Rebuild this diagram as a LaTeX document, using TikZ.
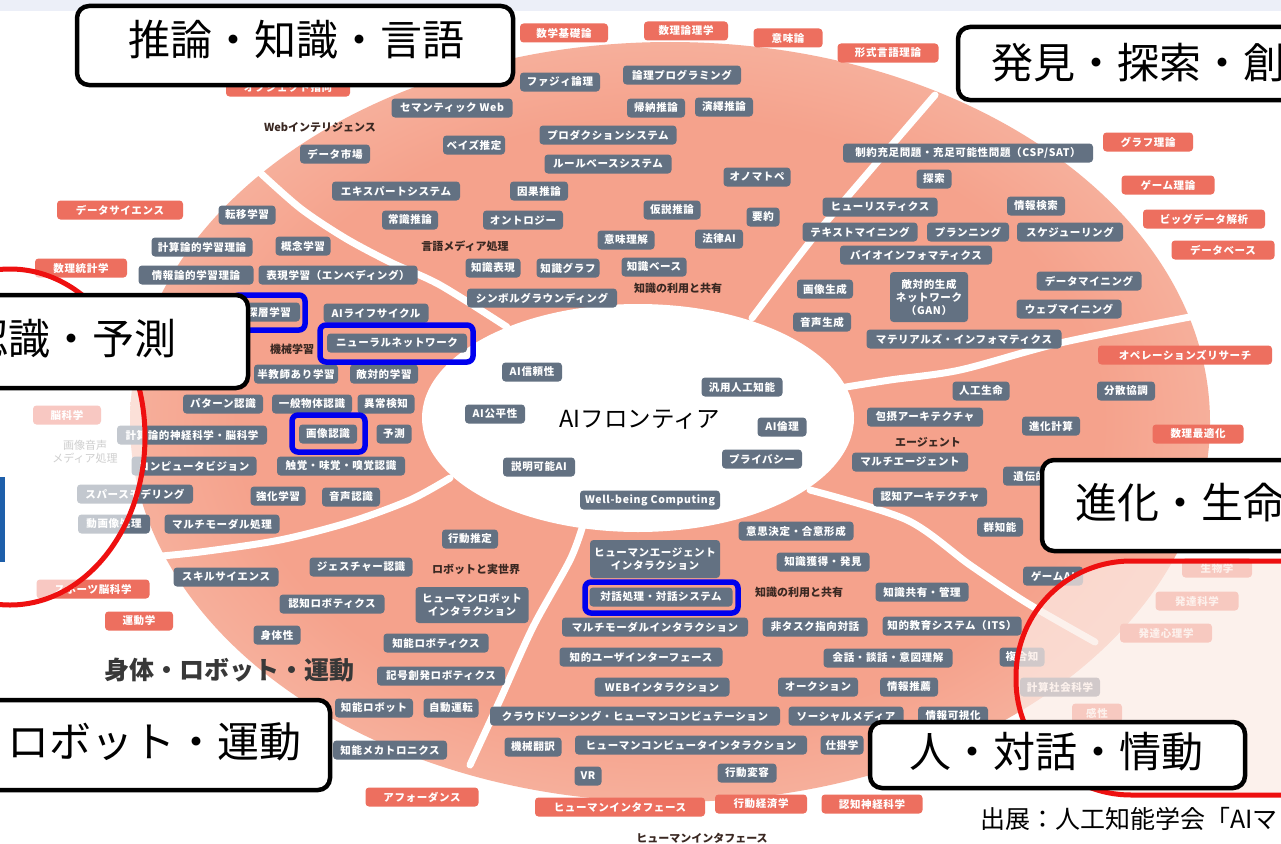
\documentclass[tikz,border=0pt]{standalone}
\usepackage{fontspec}
\setmainfont{Noto Sans CJK JP}
\newfontfamily\jp{Noto Sans CJK JP}
\newfontfamily\pf[LetterSpace=6]{Noto Sans CJK JP}
\definecolor{gn}{RGB}{99,113,130}
\definecolor{sn}{RGB}{237,111,95}
\definecolor{sal1}{RGB}{245,162,140}
\definecolor{sal2}{RGB}{248,188,170}
\definecolor{sal3}{RGB}{252,218,205}
\definecolor{sal4}{RGB}{253,235,227}
\definecolor{hdc}{RGB}{58,40,34}
\definecolor{fadec}{RGB}{252,236,230}
\definecolor{topband}{RGB}{236,239,248}
\definecolor{redl}{RGB}{238,16,16}
\definecolor{hlc}{RGB}{0,0,238}
\definecolor{logob}{RGB}{30,95,170}
\pgfdeclareradialshading{salrad}{\pgfpoint{0bp}{0bp}}{color(0bp)=(sal1); color(20bp)=(sal1); color(30bp)=(sal2); color(42bp)=(sal3); color(50bp)=(sal4)}
\tikzset{
  pill/.style={rounded corners=3.5pt, inner xsep=2pt, inner ysep=0pt, minimum height=19, text=white, font=\pf\bfseries\fontsize{10.5}{13}\selectfont, align=center},
  gp/.style={pill, fill=gn, minimum width=#1},
  sp/.style={pill, fill=sn, minimum width=#1},
  hd/.style={font=\jp\bfseries\fontsize{11}{13}\selectfont, text=hdc, inner sep=0pt},
  labbox/.style={draw=black, line width=4.5pt, fill=white, rounded corners=12pt},
  labtext/.style={font=\jp\fontsize{42}{48}\selectfont, inner sep=0pt},
  hlbox/.style={draw=hlc, line width=5.5pt, rounded corners=6pt},
  divider/.style={draw=white, line width=7pt, line cap=round},
}
\begin{document}
\begin{tikzpicture}[x=1pt,y=-1pt]
\useasboundingbox (0,0) rectangle (1281,843);
\fill[white] (0,0) rectangle (1281,843);
\fill[topband] (0,0) rectangle (1281,11);
% big ellipse
\shade[shading=salrad] (670,422) ellipse [x radius=540, y radius=380];
% dividers
\draw[divider] plot[smooth] coordinates {(507,327) (440,285) (390,262) (345,238) (300,208) (255,168)};
\draw[divider] plot[smooth] coordinates {(752,318) (773,290) (817,233) (873,167) (935,95)};
\draw[divider] plot[smooth] coordinates {(840,388) (890,380) (960,370) (1060,343) (1195,316)};
\draw[divider] plot[smooth] coordinates {(810,490) (907,520) (970,565) (1027,603) (1095,642)};
\draw[divider] plot[smooth] coordinates {(583,525) (570,560) (533,627) (500,700) (470,765)};
\draw[divider] plot[smooth] coordinates {(450,478) (410,500) (350,522) (280,540) (200,552) (140,558)};
% inner ellipse
\fill[white] (638,418) ellipse [x radius=216, y radius=114];

% top salmon
\node[sp=88] (t1) at (564,33) {数学基礎論};
\node[sp=84] (t2) at (686,31) {数理論理学};
\node[sp=69] (t3) at (788,38) {意味論};
\node[sp=101] (t4) at (888,53) {形式言語理論};
\node[sp=124] (t5) at (288,87) {オブジェクト指向};

% reasoning
\node[gp=80] (r1) at (560,82) {ファジィ論理};
\node[gp=118] (r2) at (682,75) {論理プログラミング};
\node[gp=121] (r3) at (452,108) {セマンティック Web};
\node[gp=58] (r4) at (656,108) {帰納推論};
\node[gp=58] (r5) at (724,107) {演繹推論};
\node[gp=62] (r6) at (474,145) {ベイズ推定};
\node[gp=137] (r7) at (608,135) {プロダクションシステム};
\node[gp=127] (r8) at (608,164) {ルールベースシステム};
\node[gp=70] (r9) at (335,154) {データ市場};
\node[gp=128] (r10) at (396,191) {エキスパートシステム};
\node[gp=58] (r11) at (539,191) {因果推論};
\node[gp=67] (r12) at (757,177) {オノマトペ};
\node[gp=56] (r13) at (410,220) {常識推論};
\node[gp=80] (r14) at (523,220) {オントロジー};
\node[gp=57] (r15) at (672,210) {仮説推論};
\node[gp=33] (r16) at (763,217) {要約};
\node[gp=57] (r17) at (626,240) {意味理解};
\node[gp=48] (r18) at (719,239) {法律AI};
\node[gp=55] (r19) at (493,268) {知識表現};
\node[gp=63] (r20) at (568,268) {知識グラフ};
\node[gp=65] (r21) at (654,267) {知識ベース};
\node[gp=150] (r22) at (542,298) {シンボルグラウンディング};

% headings
\node[hd] (h1) at (320,127) {Webインテリジェンス};
\node[hd] (h2) at (465,246) {言語メディア処理};
\node[hd] (h3) at (678,288) {知識の利用と共有};
\node[hd] (h4) at (292,349) {機械学習};
\node[hd] (h5) at (928,442) {エージェント};
\node[hd] (h6) at (476,569) {ロボットと実世界};
\node[hd] (h7) at (799,592) {知識の利用と共有};
\node[hd] (h8) at (702,838) {ヒューマンインタフェース};

% machine learning
\node[gp=57] (m1) at (247,215) {転移学習};
\node[gp=101] (m2) at (202,247) {計算論的学習理論};
\node[gp=55] (m3) at (303,246) {概念学習};
\node[gp=115] (m4) at (196,275) {情報論的学習理論};
\node[gp=159] (m5) at (338,275) {表現学習（エンベディング）};
\node[gp=62] (m6) at (269,312) {深層学習};
\node[gp=105] (m7) at (376,313) {AIライフサイクル};
\node[gp=140] (m8) at (397,343) {ニューラルネットワーク};
\node[gp=84] (m9) at (296,374) {半教師あり学習};
\node[gp=68] (m10) at (384,374) {敵対的学習};
\node[gp=80] (m11) at (223,404) {パターン認識};
\node[gp=80] (m12) at (312,404) {一般物体認識};
\node[gp=57] (m13) at (386,404) {異常検知};
\node[gp=150] (m14) at (192,435) {計算論的神経科学・脳科学};
\node[gp=58] (m15) at (328,434) {画像認識};
\node[gp=35] (m16) at (394,434) {予測};
\node[gp=125] (m17) at (194,466) {コンピュータビジョン};
\node[gp=128] (m18) at (341,466) {触覚・味覚・嗅覚認識};
\node[gp=116] (m19) at (135,494) {スパースモデリング};
\node[gp=55] (m20) at (278,496) {強化学習};
\node[gp=58] (m21) at (351,497) {音声認識};
\node[gp=72] (m22) at (114,524) {動画像処理};
\node[gp=115] (m23) at (222,524) {マルチモーダル処理};

% left salmon
\node[sp=126] (l1) at (120,210) {データサイエンス};
\node[sp=92] (l2) at (81,268) {数理統計学};
\node[sp=68] (l3) at (67,415) {脳科学};
\node[sp=113] (l4) at (93,589) {スポーツ脳科学};
\node[sp=68] (l5) at (139,621) {運動学};
\node[font=\jp\fontsize{11}{13}\selectfont, text=gray, align=center, inner sep=0pt] (f1) at (85,452) {画像音声\\メディア処理};

% centre
\node[gp=60] (c1) at (532,372) {AI信頼性};
\node[gp=60] (c2) at (495,414) {AI公平性};
\node[gp=72] (c3) at (539,467) {説明可能AI};
\node[gp=140] (c4) at (650,500) {Well-being Computing};
\node[gp=81] (c5) at (742,387) {汎用人工知能};
\node[gp=49] (c6) at (782,427) {AI倫理};
\node[gp=80] (c7) at (762,459) {プライバシー};
\node[font=\jp\fontsize{23.5}{28}\selectfont, inner sep=0pt] (ctr) at (640,420) {AIフロンティア};

% discovery
\node[gp=250] (d1) at (968,153) {制約充足問題・充足可能性問題（CSP/SAT）};
\node[gp=35] (d2) at (934,179) {探索};
\node[gp=115] (d3) at (880,207) {ヒューリスティクス};
\node[gp=58] (d4) at (1036,206) {情報検索};
\node[gp=115] (d5) at (860,232) {テキストマイニング};
\node[gp=82] (d6) at (968,232) {プランニング};
\node[gp=106] (d7) at (1070,232) {スケジューリング};
\node[gp=152] (d8) at (916,255) {バイオインフォマティクス};
\node[gp=105] (d9) at (1089,281) {データマイニング};
\node[gp=56] (d10) at (825,289) {画像生成};
\node[gp=78, minimum height=50] (d11) at (929,297) {敵対的生成\\ネットワーク\\（GAN）};
\node[gp=105] (d12) at (1069,309) {ウェブマイニング};
\node[gp=58] (d13) at (822,322) {音声生成};
\node[gp=195] (d14) at (964,339) {マテリアルズ・インフォマティクス};

% right salmon
\node[sp=90] (o1) at (1148,142) {グラフ理論};
\node[sp=93] (o2) at (1168,185) {ゲーム理論};
\node[sp=122] (o3) at (1204,219) {ビッグデータ解析};
\node[sp=103] (o4) at (1223,250) {データベース};
\node[sp=174] (o5) at (1185,355) {オペレーションズリサーチ};
\node[sp=91] (o6) at (1198,434) {数理最適化};

% agent
\node[gp=57] (a1) at (981,391) {人工生命};
\node[gp=116] (a2) at (925,417) {包摂アーキテクチャ};
\node[gp=58] (a3) at (1126,391) {分散協調};
\node[gp=58] (a4) at (1051,426) {進化計算};
\node[gp=116] (a5) at (910,462) {マルチエージェント};
\node[gp=120] (a6) at (1063,476) {遺伝的アルゴリズム};
\node[gp=114] (a7) at (930,497) {認知アーキテクチャ};
\node[gp=46] (a8) at (1000,527) {群知能};
\node[gp=60] (a9) at (1053,576) {ゲームAI};

% human
\node[gp=115] (u1) at (796,531) {意思決定・合意形成};
\node[gp=130, minimum height=38] (u2) at (655,559) {ヒューマンエージェント\\インタラクション};
\node[gp=93] (u3) at (823,562) {知識獲得・発見};
\node[gp=143] (u4) at (661,597) {対話処理・対話システム};
\node[gp=93] (u5) at (922,592) {知識共有・管理};
\node[gp=186] (u6) at (655,627) {マルチモーダルインタラクション};
\node[gp=105] (u7) at (815,627) {非タスク指向対話};
\node[gp=139] (u8) at (952,626) {知的教育システム（ITS）};
\node[gp=163] (u9) at (641,657) {知的ユーザインターフェース};
\node[gp=129] (u10) at (888,658) {会話・談話・意図理解};
\node[gp=45] (u11) at (1022,657) {複合知};
\node[gp=135] (u12) at (662,687) {WEBインタラクション};
\node[gp=80] (u13) at (818,687) {オークション};
\node[gp=58] (u14) at (909,687) {情報推薦};
\node[gp=80] (u15) at (1060,687) {計算社会科学};
\node[gp=290] (u16) at (635,716) {クラウドソーシング・ヒューマンコンピュテーション};
\node[gp=115] (u17) at (846,716) {ソーシャルメディア};
\node[gp=70] (u18) at (953,716) {情報可視化};
\node[gp=57] (u19) at (533,747) {機械翻訳};
\node[gp=232] (u20) at (691,745) {ヒューマンコンピュータインタラクション};
\node[gp=43] (u21) at (842,745) {仕掛学};
\node[gp=27] (u22) at (588,776) {VR};
\node[gp=59] (u23) at (747,773) {行動変容};

% bottom salmon
\node[sp=113] (b1) at (422,797) {アフォーダンス};
\node[sp=170] (b2) at (620,807) {ヒューマンインタフェース};
\node[sp=92] (b3) at (761,804) {行動経済学};
\node[sp=101] (b4) at (872,804) {認知神経科学};

% right faded salmon
\node[sp=70] (f2) at (1217,568) {生物学};
\node[sp=83] (f3) at (1197,601) {発達科学};
\node[sp=92] (f4) at (1166,633) {発達心理学};
\node[sp=50] (f5) at (1097,713) {感性};

% robot
\node[gp=56] (k1) at (470,539) {行動推定};
\node[gp=103] (k2) at (361,567) {ジェスチャー認識};
\node[gp=105] (k3) at (226,577) {スキルサイエンス};
\node[gp=113, minimum height=36] (k4) at (472,605) {ヒューマンロボット\\インタラクション};
\node[gp=105] (k5) at (332,604) {認知ロボティクス};
\node[gp=47] (k6) at (277,635) {身体性};
\node[gp=105] (k7) at (436,643) {知能ロボティクス};
\node[gp=128] (k8) at (441,676) {記号創発ロボティクス};
\node[gp=78] (k9) at (374,708) {知能ロボット};
\node[gp=55] (k10) at (451,708) {自動運転};
\node[gp=114] (k11) at (390,750) {知能メカトロニクス};
\node[font=\jp\bfseries\fontsize{25}{30}\selectfont, text=black!78, inner sep=0pt] (body) at (229,670) {身体・ロボット・運動};

% fading overlays
\fill[white, opacity=0.62] (10,437) ellipse [x radius=135, y radius=168];
\fill[fadec, opacity=0.72, rounded corners=115] (1016,561) rectangle (1420,795);
% red outlines
\draw[redl, line width=5pt] (10,437) ellipse [x radius=135, y radius=168];
\draw[redl, line width=5pt, rounded corners=115] (1016,561) rectangle (1420,795);
% logo circle
\fill[white] (0,515) circle [radius=70];
\fill[logob] (0,477) rectangle (5,562);

% highlight boxes
\draw[hlbox] (233,295) rectangle (305,330);
\draw[hlbox] (320,325) rectangle (473,362);
\draw[hlbox] (292,415) rectangle (365,452);
\draw[hlbox] (585,582) rectangle (738,613);

% label boxes
\draw[labbox] (77,6) rectangle (513,85);
\node[labtext] (L1) at (296,40) {推論・知識・言語};
\draw[labbox] (958,27) rectangle (1340,100);
\node[labtext, anchor=west] (L2) at (991,63) {発見・探索・創造};
\draw[labbox] (-40,295) rectangle (248,388);
\node[labtext, anchor=east] (L3) at (177,339) {認識・予測};
\draw[labbox] (1042,460) rectangle (1340,551);
\node[labtext, anchor=west] (L4) at (1075,503) {進化・生命};
\draw[labbox] (-40,700) rectangle (330,790);
\node[labtext, anchor=west] (L5) at (7,742) {ロボット・運動};
\draw[labbox] (870,722) rectangle (1245,788);
\node[labtext] (L6) at (1056,752) {人・対話・情動};

% citation
\node[font=\jp\fontsize{25}{30}\selectfont, anchor=west, inner sep=0pt] (cite) at (980,819) {出展：人工知能学会「AIマップ」};
\end{tikzpicture}
\end{document}
